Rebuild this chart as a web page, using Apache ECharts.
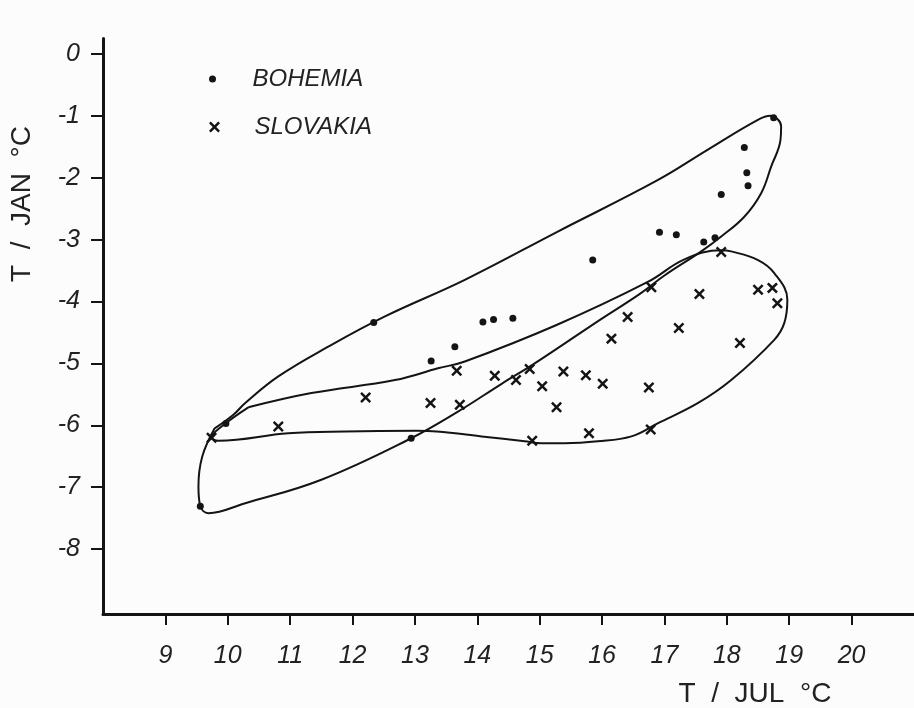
<!DOCTYPE html>
<html>
<head>
<meta charset="utf-8">
<script src="https://cdn.jsdelivr.net/npm/echarts@6/dist/echarts.min.js"></script>
<style>
html, body { margin: 0; padding: 0; background: #fcfcfc; }
#chart { width: 914px; height: 708px; }
</style>
</head>
<body>
<div id="chart"></div>
<script>
// tick labels
var xTicks = [9, 10, 11, 12, 13, 14, 15, 16, 17, 18, 19, 20];
var yTicks = [0, -1, -2, -3, -4, -5, -6, -7, -8];

// [T jul, T jan]
var bohemia = [
    [18.75, -1.03], [18.28, -1.51], [18.32, -1.92], [18.34, -2.13], [17.91, -2.27],
    [16.92, -2.88], [17.19, -2.92], [17.81, -2.97], [17.63, -3.04], [15.85, -3.33],
    [14.09, -4.33], [14.26, -4.29], [14.57, -4.27], [13.64, -4.73], [13.26, -4.96],
    [12.94, -6.21], [12.34, -4.34], [9.97, -5.97], [9.56, -7.31]
];
var slovakia = [
    [17.91, -3.20], [16.79, -3.77], [17.56, -3.88], [18.50, -3.81], [18.73, -3.78],
    [18.81, -4.03], [16.41, -4.25], [17.23, -4.43], [16.15, -4.60], [18.21, -4.67],
    [13.67, -5.12], [14.28, -5.20], [14.84, -5.09], [14.62, -5.27], [15.38, -5.13],
    [15.74, -5.19], [16.01, -5.33], [15.04, -5.37], [16.75, -5.39], [13.25, -5.64],
    [13.72, -5.67], [15.27, -5.71], [15.79, -6.13], [16.78, -6.07], [14.88, -6.25],
    [9.74, -6.20], [10.81, -6.02], [12.21, -5.55]
];

// hand drawn outlines
var bohemiaEnvelope = [
    [9.79, -6.05], [10.09, -5.83], [10.28, -5.64], [10.81, -5.21], [11.61, -4.73],
    [12.52, -4.24], [13.80, -3.65], [15.29, -2.87], [16.89, -2.04], [17.69, -1.55],
    [18.49, -1.07], [18.70, -1.00], [18.87, -1.17], [18.86, -1.39], [18.71, -1.82],
    [18.55, -2.25], [18.28, -2.63], [17.91, -2.95], [17.59, -3.19], [17.00, -3.58],
    [16.60, -3.88], [15.96, -4.30], [14.92, -5.00], [14.39, -5.33], [13.69, -5.78],
    [12.94, -6.21], [11.50, -6.88], [10.28, -7.26], [9.69, -7.42], [9.56, -7.31],
    [9.53, -6.99], [9.59, -6.51], [9.79, -6.05]
];
var slovakiaEnvelope = [
    [10.33, -5.71], [11.34, -5.48], [12.68, -5.27], [13.37, -5.08], [13.80, -4.97],
    [15.27, -4.38], [16.74, -3.68], [17.32, -3.32], [17.91, -3.17], [18.07, -3.19],
    [18.50, -3.33], [18.76, -3.54], [18.97, -3.97], [18.92, -4.35], [18.76, -4.62],
    [18.07, -5.27], [17.54, -5.64], [16.89, -5.97], [16.47, -6.18], [15.93, -6.26],
    [15.40, -6.29], [15.03, -6.29], [14.76, -6.26], [14.07, -6.18], [13.35, -6.10],
    [13.03, -6.09], [11.88, -6.10], [10.97, -6.13], [9.85, -6.25], [9.74, -6.20],
    [9.90, -6.02], [10.33, -5.71]
];

var ink = '#141414';
var crossPath = 'path://M0,1.6L1.6,0L5,3.4L8.4,0L10,1.6L6.6,5L10,8.4L8.4,10L5,6.6L1.6,10L0,8.4L3.4,5Z';
var hand = 'Liberation Sans';

var myChart = echarts.init(document.getElementById('chart'));
myChart.setOption({
    animation: false,
    backgroundColor: '#fcfcfc',
    grid: { left: 103, right: -3, top: 38.5, bottom: 94 },
    legend: [
        {
            data: ['BOHEMIA'], icon: 'circle', selectedMode: false,
            left: 204, top: 62, itemWidth: 70, itemHeight: 7,
            textStyle: { fontFamily: hand, fontStyle: 'italic', fontSize: 24, color: '#222' }
        },
        {
            data: ['SLOVAKIA'], icon: crossPath, selectedMode: false,
            left: 204, top: 110, itemWidth: 70, itemHeight: 11,
            textStyle: { fontFamily: hand, fontStyle: 'italic', fontSize: 24, color: '#222' }
        }
    ],
    xAxis: {
        type: 'value', min: 8, max: 21,
        splitLine: { show: false },
        axisLine: { onZero: false, lineStyle: { color: ink, width: 3 } },
        axisTick: { length: 11, lineStyle: { color: ink, width: 2 }, customValues: xTicks },
        axisLabel: {
            customValues: xTicks, margin: 30,
            fontFamily: hand, fontStyle: 'italic', fontSize: 25, color: '#222'
        }
    },
    yAxis: {
        type: 'value', min: -9.05, max: 0.25,
        splitLine: { show: false },
        axisLine: { onZero: false, lineStyle: { color: ink, width: 3 } },
        axisTick: { length: 12, lineStyle: { color: ink, width: 2 }, customValues: yTicks },
        axisLabel: {
            customValues: yTicks, margin: 23,
            fontFamily: hand, fontStyle: 'italic', fontSize: 25, color: '#222'
        }
    },
    graphic: [
        {
            type: 'text', x: 755, y: 694,
            style: { text: 'T  /  JUL  °C', fontFamily: hand, fontSize: 28, fill: '#222', align: 'center', verticalAlign: 'middle' }
        },
        {
            type: 'text', x: 22.5, y: 204, rotation: Math.PI / 2,
            style: { text: 'T  /  JAN  °C', fontFamily: hand, fontSize: 28, fill: '#222', align: 'center', verticalAlign: 'middle' }
        }
    ],
    series: [
        {
            name: 'bohemiaEnvelope', type: 'line', data: bohemiaEnvelope, smooth: 0.4,
            symbol: 'none', silent: true, lineStyle: { color: ink, width: 2 }
        },
        {
            name: 'slovakiaEnvelope', type: 'line', data: slovakiaEnvelope, smooth: 0.4,
            symbol: 'none', silent: true, lineStyle: { color: ink, width: 2 }
        },
        {
            name: 'BOHEMIA', type: 'scatter', data: bohemia,
            symbol: 'circle', symbolSize: 7, itemStyle: { color: ink, opacity: 1 }
        },
        {
            name: 'SLOVAKIA', type: 'scatter', data: slovakia,
            symbol: crossPath, symbolSize: 11, itemStyle: { color: ink, opacity: 1 }
        }
    ]
});
</script>
</body>
</html>
